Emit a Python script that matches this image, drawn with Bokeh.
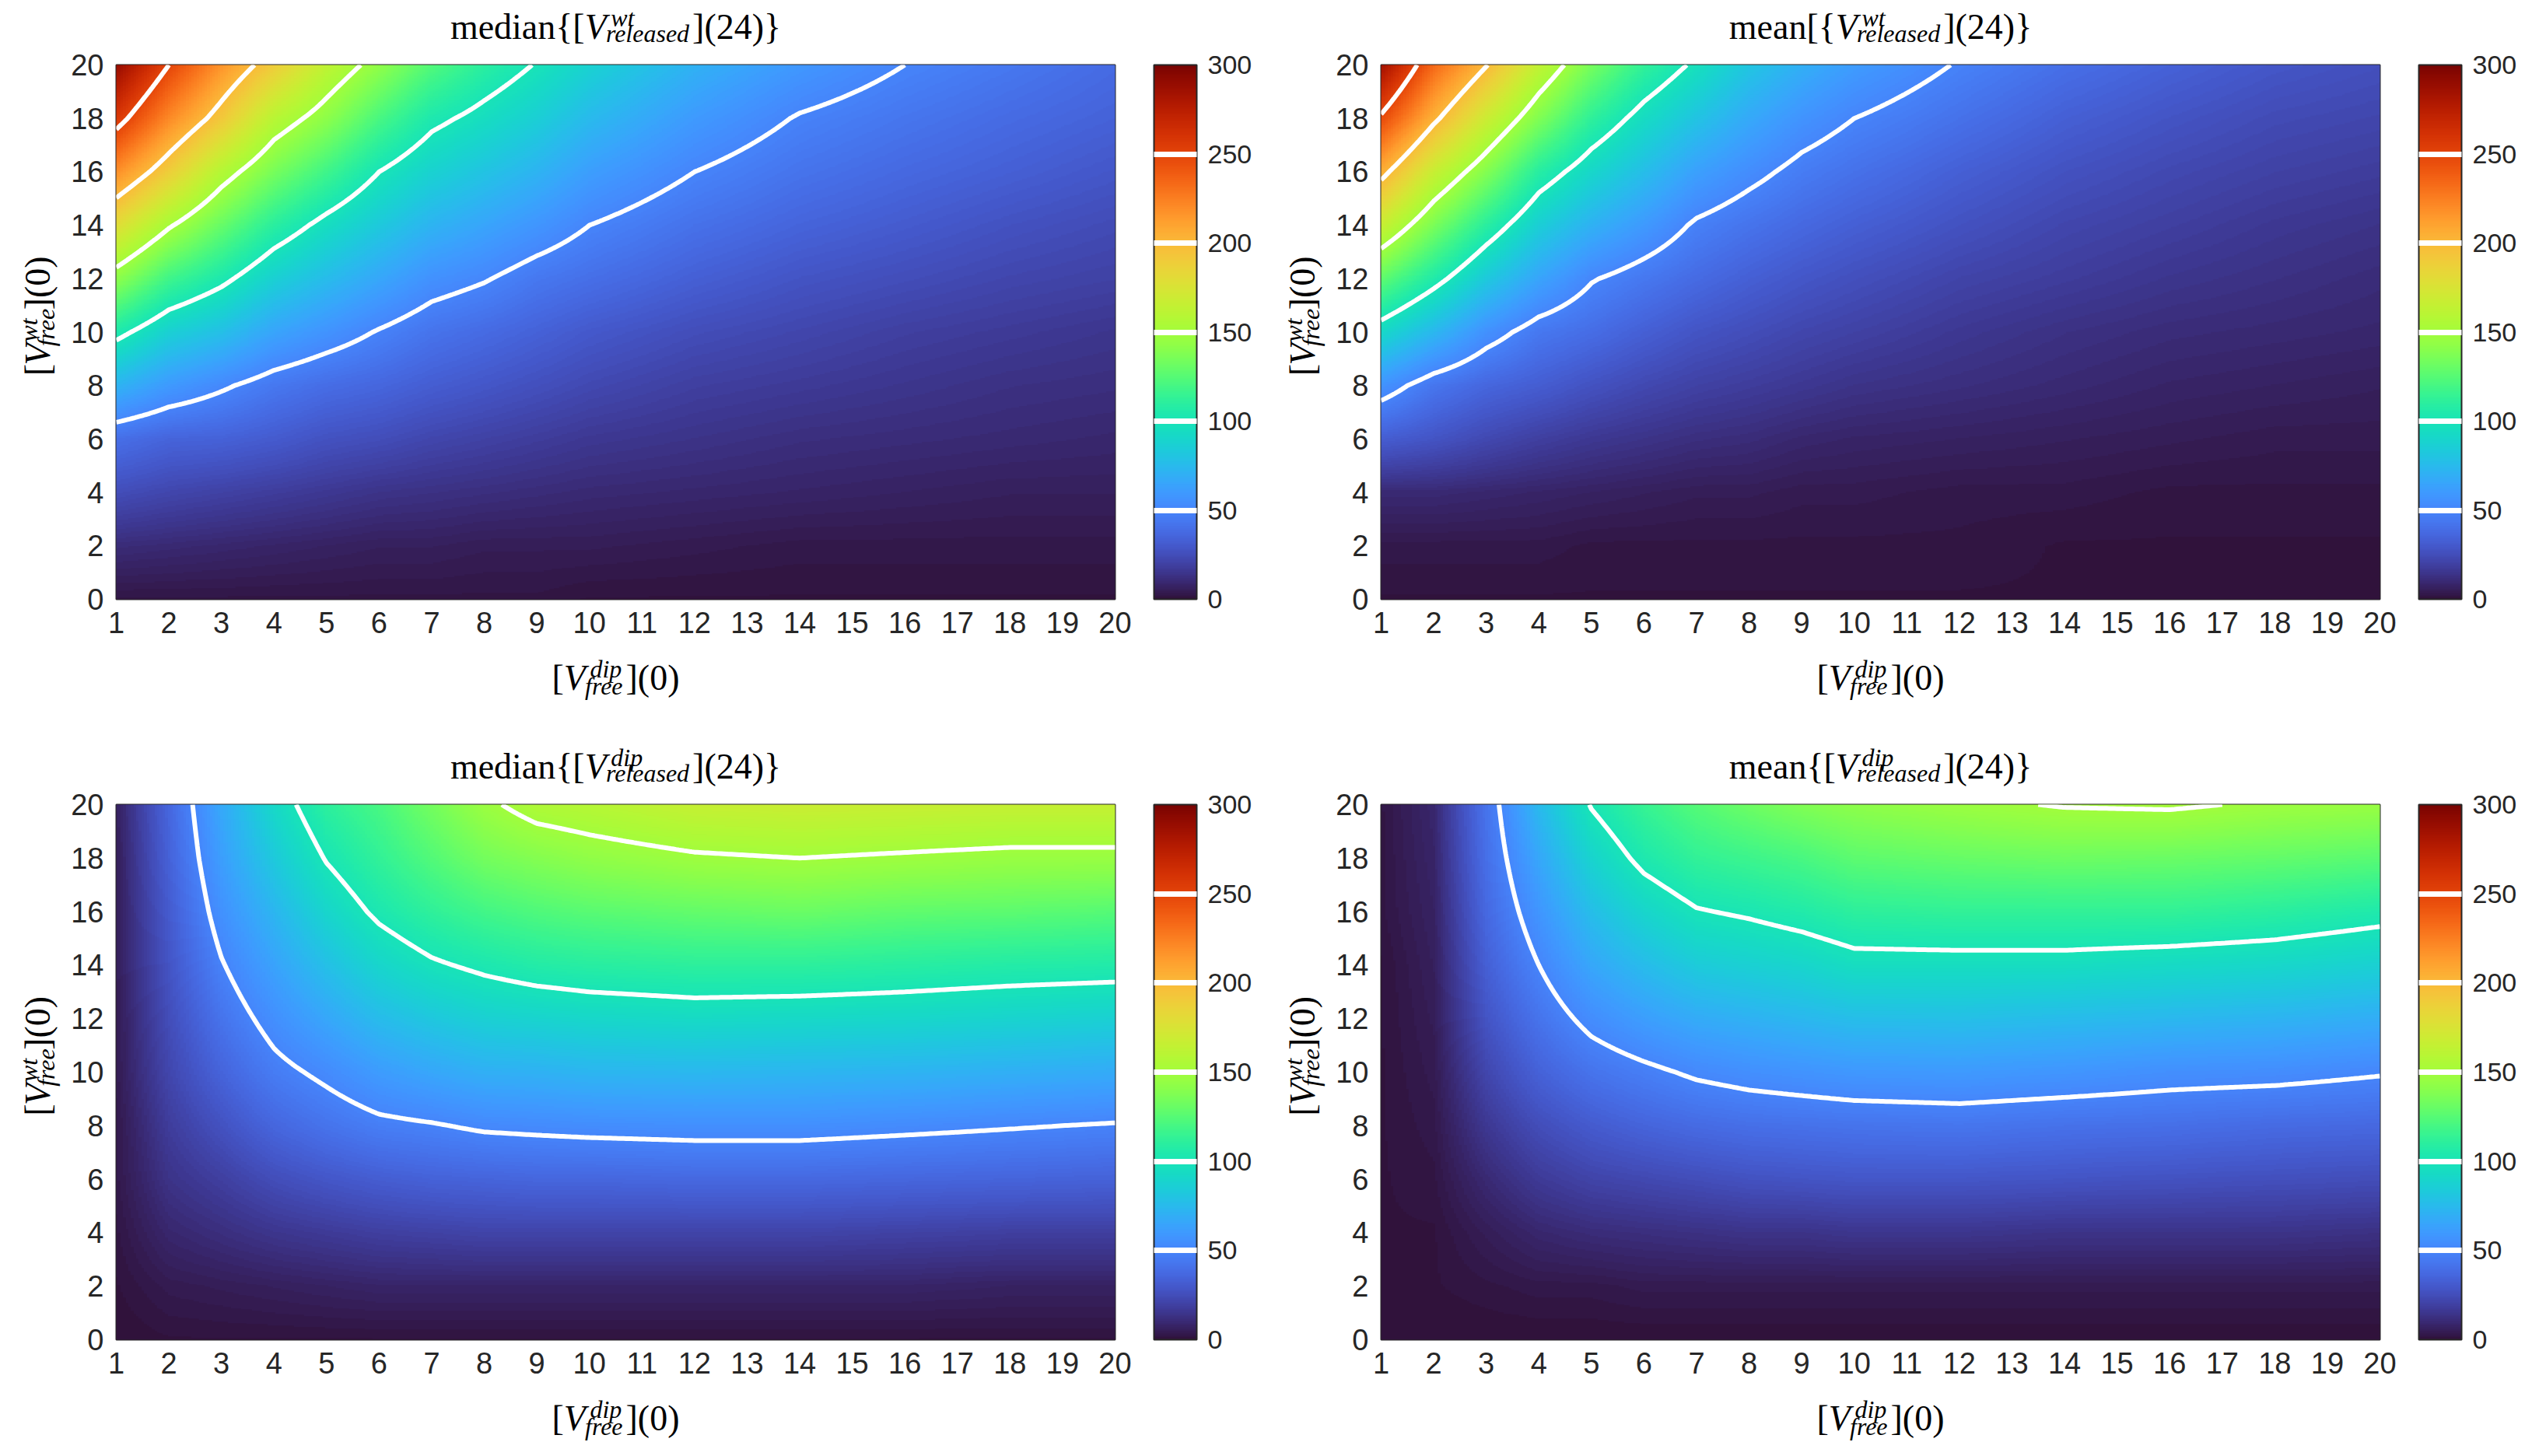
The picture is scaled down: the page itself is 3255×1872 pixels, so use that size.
import math
import numpy as np
from bokeh.plotting import figure
from bokeh.models import LinearColorMapper, ColorBar, FixedTicker
from bokeh.core.properties import value
from bokeh.palettes import Turbo256
from bokeh.layouts import column, row
from bokeh.embed import file_html
from bokeh.resources import INLINE

# ---------------- data ----------------
# grid nodes: [V_free^dip](0) along x, [V_free^wt](0) along y
X_DIP = [1, 2, 3, 4, 5, 6, 7, 8, 9, 10, 12, 14, 16, 18, 20]
Y_WT = [0, 2, 4, 6, 8, 10, 12, 14, 16, 18, 20]
LEVELS = [50, 100, 150, 200, 250]
CBAR_TICKS = [0, 50, 100, 150, 200, 250, 300]
X_TICKS = list(range(1, 21))
Y_TICKS = list(range(0, 21, 2))

# each inner list: one x column, values at Y_WT (bottom -> top)
median_wt = [
    [2, 11, 25, 40, 72, 105, 142, 180, 219, 258, 290],
    [2, 10, 22, 35, 60, 87, 118, 152, 189, 221, 250],
    [2, 9, 20, 34, 52, 78, 104, 130, 158, 192, 217],
    [2, 8, 18, 31, 44, 65, 87, 110, 135, 160, 190],
    [2, 7, 16, 27, 39, 57, 76, 95, 118, 142, 163],
    [2, 6, 14, 25, 36, 49, 66, 83, 100, 121, 143],
    [2, 6, 13, 22, 32, 42, 56, 72, 88, 104, 124],
    [2, 5, 12, 20, 29, 38, 51, 65, 80, 95, 110],
    [2, 5, 11, 18, 26, 34, 44, 58, 72, 86, 99],
    [1, 5, 10, 16, 23, 30, 40, 50, 62, 75, 88],
    [1, 4, 9, 14, 19, 25, 33, 41, 50, 60, 71],
    [1, 3, 8, 12, 17, 22, 28, 35, 42, 49, 59],
    [1, 3, 7, 11, 15, 19, 25, 31, 37, 43, 50],
    [1, 3, 6, 10, 13, 17, 22, 27, 33, 38, 44],
    [1, 3, 6, 9, 12, 15, 20, 24, 29, 34, 38],
]
mean_wt = [
    [1, 3, 10, 32, 57, 92, 128, 167, 206, 247, 285],
    [1, 3, 10, 28, 43, 74, 106, 136, 167, 204, 234],
    [1, 3, 9, 23, 36, 56, 83, 110, 139, 169, 201],
    [1, 3, 8, 19, 32, 44, 65, 86, 109, 138, 164],
    [1, 2, 7, 16, 27, 39, 51, 71, 91, 112, 135],
    [1, 2, 6, 14, 23, 33, 44, 60, 77, 94, 113],
    [1, 2, 5, 12, 20, 28, 38, 48, 63, 80, 97],
    [1, 2, 5, 11, 18, 25, 33, 42, 54, 67, 81],
    [1, 2, 4, 9, 16, 22, 29, 37, 46, 57, 70],
    [1, 2, 4, 8, 14, 20, 26, 33, 41, 50, 61],
    [1, 2, 3, 7, 12, 16, 21, 27, 33, 41, 49],
    [1, 1, 3, 6, 10, 13, 18, 22, 27, 33, 40],
    [1, 1, 2, 5, 8, 11, 15, 19, 23, 28, 34],
    [1, 1, 2, 4, 7, 10, 13, 16, 20, 24, 29],
    [1, 1, 2, 4, 6, 9, 11, 14, 18, 22, 26],
]
median_dip = [
    [0, 1, 2, 3, 3, 4, 4, 5, 5, 5, 6],
    [1, 4, 9, 14, 18, 22, 25, 28, 31, 34, 36],
    [1, 5, 12, 19, 27, 35, 42, 49, 56, 62, 67],
    [1, 6, 15, 25, 36, 46, 55, 64, 73, 83, 92],
    [1, 7, 17, 29, 42, 53, 66, 78, 90, 101, 111],
    [1, 8, 19, 32, 47, 61, 76, 90, 103, 113, 121],
    [1, 8, 20, 34, 49, 66, 82, 98, 112, 124, 134],
    [1, 8, 21, 35, 52, 70, 87, 103, 119, 134, 147],
    [1, 8, 21, 36, 53, 71, 89, 107, 123, 139, 156],
    [1, 8, 21, 36, 54, 73, 91, 109, 126, 143, 159],
    [1, 8, 21, 37, 55, 74, 93, 111, 129, 148, 166],
    [1, 8, 21, 37, 55, 73, 92, 111, 131, 150, 168],
    [1, 8, 20, 36, 53, 72, 91, 109, 128, 148, 167],
    [1, 7, 19, 35, 51, 70, 89, 107, 127, 146, 166],
    [1, 7, 19, 34, 49, 68, 87, 106, 125, 146, 166],
]
mean_dip = [
    [0, 0, 1, 1, 1, 1, 1, 1, 2, 2, 2],
    [0, 1, 1, 2, 3, 4, 5, 6, 7, 8, 9],
    [0, 2, 5, 10, 16, 22, 28, 33, 37, 40, 42],
    [0, 3, 9, 17, 25, 34, 42, 50, 58, 66, 75],
    [0, 3, 11, 21, 31, 42, 54, 66, 77, 89, 101],
    [0, 4, 12, 23, 35, 47, 62, 76, 90, 104, 115],
    [0, 4, 13, 25, 38, 52, 68, 84, 99, 113, 125],
    [0, 4, 14, 27, 40, 55, 71, 87, 102, 117, 132],
    [0, 4, 14, 28, 41, 57, 74, 90, 106, 121, 138],
    [0, 4, 15, 29, 42, 59, 77, 95, 111, 127, 142],
    [0, 4, 15, 29, 43, 60, 78, 95, 113, 130, 147],
    [0, 4, 14, 28, 41, 58, 76, 95, 113, 132, 151],
    [0, 4, 14, 27, 40, 55, 74, 93, 113, 131, 152],
    [0, 4, 14, 26, 38, 54, 72, 91, 110, 129, 148],
    [0, 4, 13, 25, 37, 51, 69, 87, 105, 126, 146],
]

# ---------------- helpers ----------------
FX = np.linspace(1, 20, 381)
FY = np.linspace(0, 20, 401)
DX = FX[1] - FX[0]
DY = FY[1] - FY[0]


def display_grid(cols):
    """bilinear display resampling of the read grid (for a smooth shaded image)."""
    z = np.array(cols, dtype=float).T  # (ny, nx)
    tmp = np.array([np.interp(FX, X_DIP, r) for r in z])  # (ny, nfx)
    zf = np.array([np.interp(FY, Y_WT, tmp[:, j]) for j in range(len(FX))]).T
    return zf


REG = {'m': 778, 'e': 444, 'd': 500, 'i': 278, 'a': 444, 'n': 500, '{': 480, '}': 480,
       '[': 333, ']': 333, '(': 333, ')': 333, '0': 500, '2': 500, '4': 500}
ITA = {'V': 611, 'w': 667, 't': 278, 'r': 389, 'e': 444, 'l': 278, 'a': 500, 's': 389,
       'd': 500, 'f': 278, 'i': 278, 'p': 500}
BASE_FIX = 0.23  # baseline correction (fraction of font size) for the text glyph


def tw(s, italic, size):
    tab = ITA if italic else REG
    return sum(tab.get(c, 500) for c in s) / 1000.0 * size


def add_math(f, pieces, cx, cy, rotated=False, size=46, color="black",
             sup_k=0.33, sub_k=0.14):
    small = round(size * 0.7)
    widths = []
    for pc in pieces:
        if pc[0] == "t":
            widths.append(tw(pc[1], pc[2], size))
        else:
            widths.append(max(tw(pc[1], True, small) + 0.12 * size,
                              tw(pc[2], True, small)) + 0.04 * size)
    pos = -sum(widths) / 2.0
    for pc, w in zip(pieces, widths):
        if pc[0] == "t":
            items = [(pc[1], pc[2], size, 0.0, 0.0)]
        else:
            items = [(pc[1], True, small, 0.12 * size, sup_k * size),
                     (pc[2], True, small, -0.02 * size, -sub_k * size)]
        for txt, it, sz, dx, dy in items:
            a = pos + dx
            up = dy + BASE_FIX * sz
            if rotated:
                x, y, ang = cx - up, cy + a, math.pi / 2
            else:
                x, y, ang = cx + a, cy + up, 0.0
            f.text(x=[x], y=[y], text=[txt], angle=ang,
                   text_font=value("Liberation Serif"),
                   text_font_size=value(f"{sz}px"),
                   text_font_style=value("italic" if it else "normal"),
                   text_align="left", text_baseline="alphabetic", text_color=color)
        pos += w


def strip(w, h):
    f = figure(width=w, height=h, x_range=(0, w), y_range=(0, h),
               x_axis_type=None, y_axis_type=None, output_backend="svg",
               toolbar_location=None, tools="", title_location=None,
               min_border=0, outline_line_color=None)
    f.grid.visible = False
    return f


PANEL_W = 1626
FW = 1284
LEFT = 149          # frame left offset inside a panel
YLAB_W = 80
TITLE_H = 61
MAIN_TOP = 22
MAIN_BOT = 60
CX = LEFT + FW / 2  # frame centre inside a panel
AX_COL = "#262626"


def make_panel(cols, title_pieces, top_row):
    fh = 687 if top_row else 688
    total_h = 951 if top_row else 905
    main_h = MAIN_TOP + fh + MAIN_BOT
    xlab_h = total_h - TITLE_H - main_h

    p = figure(width=PANEL_W - YLAB_W, height=main_h, x_range=(1, 20), y_range=(0, 20),
               output_backend="svg", toolbar_location=None, tools="", title_location=None,
               min_border_left=LEFT - YLAB_W, min_border_right=PANEL_W - LEFT - FW,
               min_border_top=MAIN_TOP, min_border_bottom=MAIN_BOT)
    mapper = LinearColorMapper(palette=Turbo256, low=0, high=300)
    zf = display_grid(cols)
    p.image(image=[zf], x=1 - DX / 2, y=-DY / 2, dw=19 + DX, dh=20 + DY, color_mapper=mapper)
    p.contour(FX, FY, zf, levels=LEVELS, line_color="white", line_width=6)

    p.grid.visible = False
    p.outline_line_color = AX_COL
    p.outline_line_width = 2
    for ax in (p.xaxis[0], p.yaxis[0]):
        ax.axis_line_color = None
        ax.major_tick_out = 0
        ax.major_tick_in = 0
        ax.minor_tick_out = 0
        ax.minor_tick_in = 0
        ax.major_label_text_font = "Liberation Sans"
        ax.major_label_text_font_size = "38px"
        ax.major_label_text_color = AX_COL
    p.xaxis.ticker = FixedTicker(ticks=X_TICKS)
    p.yaxis.ticker = FixedTicker(ticks=Y_TICKS)
    p.xaxis.major_label_standoff = 16
    p.yaxis.major_label_standoff = 16

    cb = ColorBar(color_mapper=mapper,
                  ticker=FixedTicker(ticks=CBAR_TICKS, minor_ticks=LEVELS),
                  width=55, height=fh, padding=0, margin=0, location=(50, 0),
                  major_tick_in=0, major_tick_out=0,
                  minor_tick_in=55, minor_tick_out=0,
                  minor_tick_line_color="white", minor_tick_line_width=7,
                  bar_line_color=AX_COL, bar_line_width=2,
                  major_label_text_font="Liberation Sans",
                  major_label_text_font_size="34px",
                  major_label_text_color=AX_COL,
                  label_standoff=14, border_line_color=None,
                  background_fill_color=None)
    p.add_layout(cb, "right")

    t = strip(PANEL_W, TITLE_H)
    add_math(t, title_pieces, CX, 16, sup_k=0.33, sub_k=0.10)

    yl = strip(YLAB_W, main_h)
    add_math(yl, [("t", "[", False), ("t", "V", True), ("s", "wt", "free"),
                  ("t", "](0)", False)], 59, MAIN_BOT + fh / 2, rotated=True)

    xl = strip(PANEL_W, xlab_h)
    add_math(xl, [("t", "[", False), ("t", "V", True), ("s", "dip", "free"),
                  ("t", "](0)", False)], CX, xlab_h - 52)

    return column(t, row(yl, p), xl)


c1 = make_panel(median_wt, [("t", "median{[", False), ("t", "V", True),
                            ("s", "wt", "released"), ("t", "](24)}", False)], True)
c2 = make_panel(mean_wt, [("t", "mean[{", False), ("t", "V", True),
                          ("s", "wt", "released"), ("t", "](24)}", False)], True)
c3 = make_panel(median_dip, [("t", "median{[", False), ("t", "V", True),
                             ("s", "dip", "released"), ("t", "](24)}", False)], False)
c4 = make_panel(mean_dip, [("t", "mean{[", False), ("t", "V", True),
                           ("s", "dip", "released"), ("t", "](24)}", False)], False)

layout = column(row(c1, c2), row(c3, c4))
open("out.html", "w").write(file_html(layout, INLINE))
